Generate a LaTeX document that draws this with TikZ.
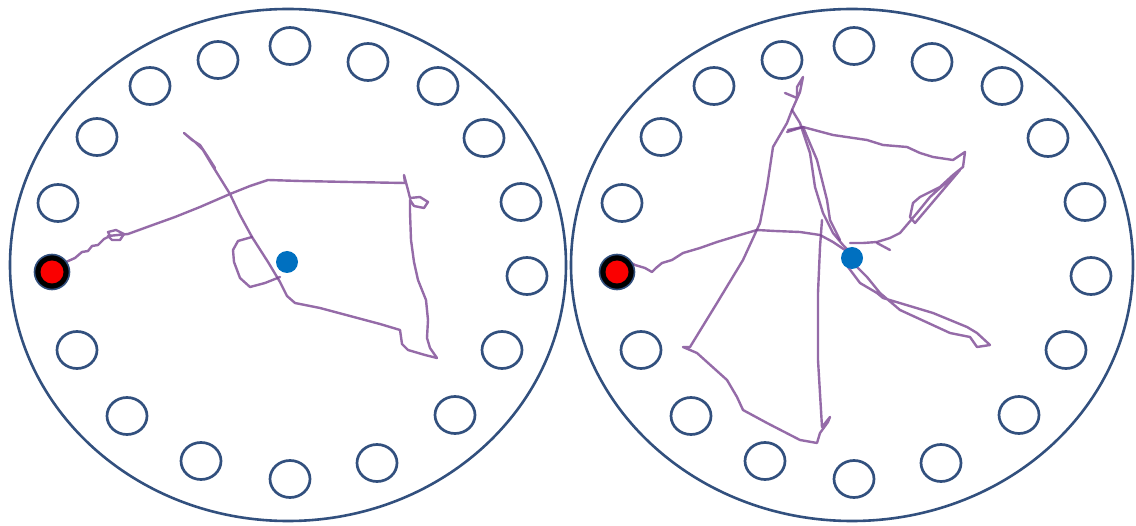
\documentclass[tikz,border=0pt]{standalone}
\usetikzlibrary{calc}
\definecolor{rimclr}{RGB}{50,80,126}
\definecolor{trailclr}{RGB}{122,70,146}
\definecolor{goalclr}{RGB}{250,0,0}
\definecolor{startclr}{RGB}{0,112,192}
\tikzset{
  rim/.style={draw=rimclr,line width=2.6pt},
  hole/.style={draw=rimclr,line width=2.7pt},
  goalring/.style={draw=rimclr,line width=1.6pt,fill=black},
  goalfill/.style={fill=goalclr},
  trail/.style={draw=trailclr,line width=2.4pt,line join=round,
    line cap=round,opacity=0.8},
  startdot/.style={fill=startclr},
}
\begin{document}
\begin{tikzpicture}[x=1pt,y=-1pt]
  \useasboundingbox (0,0) rectangle (1136,526);

  %% Arenas and holes
  \foreach \dx/\cx/\rx in {0/288/278,564/852/281}{
    \draw[rim] (\cx,265) ellipse [x radius=\rx pt,y radius=256pt];
    \foreach \hx/\hy in {290/46,218/60,368/62,150/86,438/86,97/137,484/138,
                         58/203,521/202,527/276,77/350,502/350,127/416,
                         455/415,201/461,377/463,290/479}{
      \draw[hole] ({\hx+\dx},\hy) ellipse [x radius=20pt,y radius=18.5pt];
    }
  }

  %% Trail, left arena
  \draw[trail] (66,262) -- (75,258) -- (82,252) -- (88,251) -- (92,246)
    -- (98,245) -- (104,239) -- (110,236) -- (108,232) -- (116,230)
    -- (124,234) -- (120,240) -- (112,240) -- (108,236) -- (128,234)
    -- (150,226) -- (175,217) -- (200,207) -- (230,194) -- (250,186)
    -- (268,180) -- (300,181) -- (350,182) -- (405,183) -- (404,175)
    -- (408,190) -- (410,198) -- (420,197) -- (428,202) -- (424,208)
    -- (414,206) -- (410,200) -- (410,212) -- (411,240) -- (414,262)
    -- (418,280) -- (426,300) -- (428,320) -- (427,338) -- (430,348)
    -- (437,358) -- (425,355) -- (408,350) -- (402,344) -- (400,330)
    -- (380,324) -- (350,316) -- (320,308) -- (295,303) -- (287,296)
    -- (280,282) -- (268,262) -- (252,237) -- (240,215) -- (230,194)
    -- (212,165) -- (203,150) -- (195,142) -- (184,133) -- (192,140)
    -- (200,145) -- (208,157) -- (215,168);
  \draw[trail] (252,237) -- (238,241) -- (233,250) -- (234,262)
    -- (240,278) -- (250,287) -- (265,283) -- (280,277);

  %% Trail, right arena
  \draw[trail] (626,260) -- (635,265) -- (645,268) -- (652,272) -- (656,268)
    -- (662,263) -- (672,260) -- (683,253) -- (700,248) -- (717,242)
    -- (740,235) -- (757,230) -- (775,231) -- (800,232) -- (820,235)
    -- (833,242) -- (845,250);
  \draw[trail] (785,93) -- (797,98) -- (797,87) -- (803,77) -- (800,92)
    -- (792,110) -- (787,123) -- (773,147) -- (767,187) -- (760,223)
    -- (743,260) -- (717,303) -- (690,347) -- (683,347) -- (697,353)
    -- (727,380) -- (737,397) -- (743,410) -- (767,423) -- (800,440)
    -- (817,443) -- (820,433) -- (828,422) -- (830,417) -- (822,427)
    -- (818,360) -- (818,293) -- (820,247) -- (822,220);
  \draw[trail] (792,110) -- (800,123) -- (810,153) -- (815,187)
    -- (823,213) -- (833,233) -- (843,245) -- (850,252);
  \draw[trail] (787,132) -- (803,127) -- (817,160) -- (827,200)
    -- (830,220) -- (840,240);
  \draw[trail] (788,130) -- (803,127) -- (833,135) -- (867,140)
    -- (883,145) -- (907,147) -- (920,153) -- (933,157) -- (953,160)
    -- (965,152) -- (963,167) -- (953,175) -- (940,187) -- (920,197)
    -- (913,203) -- (910,217) -- (915,223) -- (960,170) -- (930,197)
    -- (917,213) -- (900,233) -- (890,238) -- (877,242) -- (863,243)
    -- (850,243);
  \draw[trail] (877,243) -- (890,250);
  \draw[trail] (848,267) -- (860,283) -- (877,293) -- (883,298)
    -- (933,313) -- (967,327) -- (977,333) -- (990,345) -- (977,347)
    -- (970,337) -- (950,333) -- (900,310) -- (880,293) -- (867,277)
    -- (857,267);

  %% Goal holes and start points
  \foreach \gx in {52,617}{
    \draw[goalring] (\gx,272) circle [radius=17.5pt];
    \fill[goalfill] (\gx,272) circle [radius=11.5pt];
  }
  \fill[startdot] (287,262) circle [radius=11pt];
  \fill[startdot] (852,258) circle [radius=11pt];
\end{tikzpicture}
\end{document}
